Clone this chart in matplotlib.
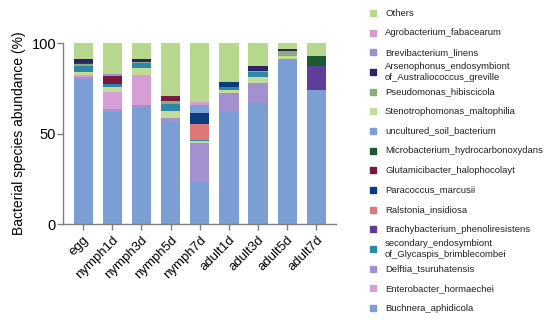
import matplotlib
matplotlib.use("Agg")
import matplotlib.pyplot as plt
from matplotlib.patches import Rectangle
import numpy as np

plt.rcParams['font.family'] = ['Liberation Sans', 'DejaVu Sans']

samples = ["egg", "nymph1d", "nymph3d", "nymph5d", "nymph7d",
           "adult1d", "adult3d", "adult5d", "adult7d"]

# abundances (%) per sample
Buchnera_aphidicola        = [80.0, 62.1, 64.5, 56.5, 23.4, 62.0, 67.0, 91.5, 74.0]
Delftia_tsuruhatensis      = [1.2, 1.8, 1.2, 2.4, 21.2, 10.5, 11.3, 0.0, 0.0]
Enterobacter_hormaechei    = [1.0, 9.2, 16.6, 0.0, 0.0, 0.0, 0.0, 0.0, 0.0]
Stenotrophomonas_maltophilia = [1.9, 2.8, 4.3, 3.7, 1.2, 1.5, 3.0, 1.2, 0.0]
secondary_endosymbiont     = [3.1, 1.8, 2.5, 3.9, 0.6, 1.9, 2.7, 0.0, 0.0]
Pseudomonas_hibiscicola    = [1.1, 0.0, 0.6, 1.6, 0.0, 0.0, 0.8, 3.0, 0.0]
Brachybacterium_phenoliresistens = [0.0, 0.0, 0.0, 0.0, 0.0, 0.0, 0.0, 0.0, 13.3]
Ralstonia_insidiosa        = [0.0, 0.0, 0.0, 0.0, 8.7, 0.0, 0.0, 0.0, 0.0]
Paracoccus_marcusii        = [0.0, 0.0, 0.0, 0.0, 6.1, 2.7, 0.0, 0.0, 0.0]
Glutamicibacter_halophocolayt = [0.8, 4.2, 0.0, 2.8, 0.0, 0.0, 0.0, 0.0, 0.0]
Microbacterium_hydrocarbonoxydans = [0.0, 0.0, 0.0, 0.0, 0.0, 0.0, 0.0, 0.0, 5.5]
uncultured_soil_bacterium  = [0.0, 0.0, 0.0, 0.0, 4.6, 0.0, 0.0, 0.0, 0.0]
Arsenophonus_endosymbiont  = [2.0, 0.0, 1.8, 0.0, 0.0, 0.0, 2.8, 1.4, 0.0]
Brevibacterium_linens      = [0.0, 1.2, 0.0, 0.0, 0.0, 0.0, 0.0, 0.0, 0.0]
Agrobacterium_fabacearum   = [0.0, 0.0, 0.0, 0.0, 1.8, 0.0, 0.0, 0.0, 0.0]
Others                     = [8.9, 16.9, 8.5, 29.1, 32.4, 21.4, 12.4, 2.9, 7.2]

# (label, values, colour) in stacking order, bottom -> top
stack = [
    ("Buchnera_aphidicola", Buchnera_aphidicola, "#7b9fd4"),
    ("Delftia_tsuruhatensis", Delftia_tsuruhatensis, "#a391cf"),
    ("Enterobacter_hormaechei", Enterobacter_hormaechei, "#d59fd5"),
    ("Stenotrophomonas_maltophilia", Stenotrophomonas_maltophilia, "#c2dc98"),
    ("secondary_endosymbiont\nof_Glycaspis_brimblecombei", secondary_endosymbiont, "#2e86a8"),
    ("Pseudomonas_hibiscicola", Pseudomonas_hibiscicola, "#8eab7c"),
    ("Brachybacterium_phenoliresistens", Brachybacterium_phenoliresistens, "#5d3f99"),
    ("Ralstonia_insidiosa", Ralstonia_insidiosa, "#de7878"),
    ("Paracoccus_marcusii", Paracoccus_marcusii, "#0d3b7f"),
    ("Glutamicibacter_halophocolayt", Glutamicibacter_halophocolayt, "#781a3e"),
    ("Microbacterium_hydrocarbonoxydans", Microbacterium_hydrocarbonoxydans, "#1c5a33"),
    ("uncultured_soil_bacterium", uncultured_soil_bacterium, "#7da0d6"),
    ("Arsenophonus_endosymbiont\nof_Australiococcus_greville", Arsenophonus_endosymbiont, "#2b2466"),
    ("Brevibacterium_linens", Brevibacterium_linens, "#a08dcd"),
    ("Agrobacterium_fabacearum", Agrobacterium_fabacearum, "#d49bd0"),
    ("Others", Others, "#b6d78c"),
]

# legend order (top -> bottom)
legend_order = ["Others", "Agrobacterium_fabacearum", "Brevibacterium_linens",
                "Arsenophonus_endosymbiont\nof_Australiococcus_greville",
                "Pseudomonas_hibiscicola", "Stenotrophomonas_maltophilia",
                "uncultured_soil_bacterium", "Microbacterium_hydrocarbonoxydans",
                "Glutamicibacter_halophocolayt", "Paracoccus_marcusii",
                "Ralstonia_insidiosa", "Brachybacterium_phenoliresistens",
                "secondary_endosymbiont\nof_Glycaspis_brimblecombei",
                "Delftia_tsuruhatensis", "Enterobacter_hormaechei",
                "Buchnera_aphidicola"]

W, H = 550, 320
fig = plt.figure(figsize=(5.5, 3.2), dpi=100)
ax = fig.add_axes([63 / W, 1 - 224 / H, (336 - 63) / W, (224 - 43.3) / H])

x = np.arange(len(samples))
bottom = np.zeros(len(samples))
colors = {}
for label, vals, col in stack:
    v = np.array(vals, dtype=float)
    ax.bar(x, v, width=0.66, bottom=bottom, color=col, edgecolor='none', linewidth=0)
    bottom += v
    colors[label] = col

ax.set_xlim(-0.69, len(samples) - 1 + 0.67)
ax.set_ylim(0, 100)
ax.set_yticks([0, 50, 100])
ax.set_xticks(x)
ax.set_xticklabels(samples, rotation=45, ha='right', rotation_mode='anchor', fontsize=9.5)
ax.tick_params(axis='y', labelsize=10.5, direction='out', length=4, width=1, color='#7f7f7f', pad=1)
ax.tick_params(axis='x', direction='out', length=4, width=1, color='#7f7f7f', pad=3)
for s in ['top', 'right']:
    ax.spines[s].set_visible(False)
for s in ['left', 'bottom']:
    ax.spines[s].set_color('#7f7f7f')
    ax.spines[s].set_linewidth(1)
ax.set_ylabel("Bacterial species abundance (%)", fontsize=10, labelpad=4)

# legend drawn as patches + text in figure coordinates
y0, dy = 13.0, 19.67
for i, lab in enumerate(legend_order):
    yc = y0 + i * dy
    fig.patches.append(Rectangle(((370) / W, 1 - (yc + 3) / H), 6 / W, 6 / H,
                                 transform=fig.transFigure, color=colors[lab],
                                 figure=fig))
    fig.text(385 / W, 1 - yc / H, lab, fontsize=6.8, va='center', ha='left',
             color='#222222', linespacing=1.25)

fig.savefig("out.png", dpi=100)
